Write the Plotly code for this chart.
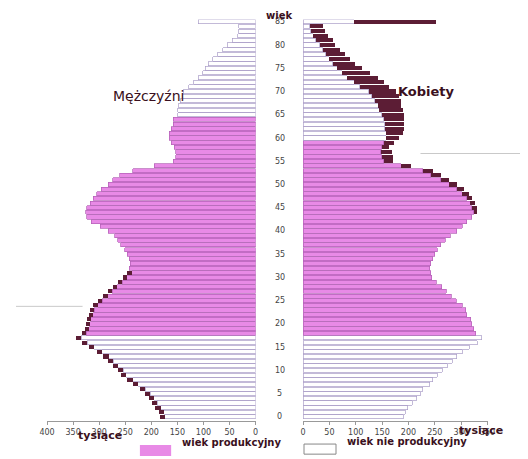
import plotly.graph_objects as go

ages = list(range(0, 86))
# Men, thousands (total bar length incl. dark excess), ages 0..85
men_total = [184,186,192,199,205,212,222,236,246,259,264,274,283,292,305,320,333,344,
             333,328,326,324,320,317,311,302,292,283,274,264,255,246,242,240,242,246,
             251,259,264,270,283,298,315,324,326,324,317,311,305,296,283,274,261,236,
             194,158,153,153,156,162,166,166,162,158,158,149,149,147,145,140,138,128,
             119,110,101,97,91,82,73,63,54,45,34,32,32,110]
# Men excess over women (dark segment), thousands
men_excess = [10]*18 + [8]*14 + [0]*54
# Women, thousands (coloured part), ages 0..85
women = [190,194,199,207,216,222,227,240,246,255,264,274,283,292,302,315,330,339,
         328,324,320,318,311,309,302,291,281,272,263,253,244,242,240,242,246,250,
         255,261,270,279,292,302,311,320,324,320,317,311,302,292,277,261,242,227,
         186,153,149,147,149,153,158,158,155,155,153,149,145,143,136,130,125,108,
         97,84,74,65,56,50,43,37,32,24,19,15,13,97]
# Women excess over men (dark segment), thousands
women_excess = [0]*44 + [6,10,9,9,13,13,15,16,19,19,19,18,22,21,15,20,24,32,37,37,39,43,
                         45,43,50,52,52,56,56,59,53,47,43,39,37,34,29,32,28,26,24,156]
men_ticks = [400,350,300,250,200,150,100,50,0]
women_ticks = [0,50,100,150,200,250,300,350]

PINK = "#e88ae6"
WHITE = "#ffffff"
DARK = "#5c1d35"
men_prod = [18 <= a <= 64 for a in ages]
women_prod = [18 <= a <= 59 for a in ages]

fig = go.Figure()
men_base = [t - e for t, e in zip(men_total, men_excess)]
fig.add_bar(y=ages, x=men_base, orientation="h", xaxis="x", yaxis="y",
            marker=dict(color=[PINK if p else WHITE for p in men_prod],
                        line=dict(color=["#b25fb5" if p else "#a99cc8" for p in men_prod], width=0.7)))
fig.add_bar(y=ages, x=men_excess, orientation="h", xaxis="x", yaxis="y",
            marker=dict(color=DARK, line=dict(width=0)))
fig.add_bar(y=ages, x=women, orientation="h", xaxis="x2", yaxis="y2",
            marker=dict(color=[PINK if p else WHITE for p in women_prod],
                        line=dict(color=["#b25fb5" if p else "#a99cc8" for p in women_prod], width=0.7)))
fig.add_bar(y=ages, x=women_excess, orientation="h", xaxis="x2", yaxis="y2",
            marker=dict(color=DARK, line=dict(width=0)))

ydom = [0.104, 0.975]
axcommon = dict(showgrid=False, zeroline=False, showline=True, linecolor="#999",
                ticks="outside", ticklen=3, tickcolor="#999",
                tickfont=dict(family="DejaVu Sans", size=8, color="#444"), anchor="free", position=0.1)
fig.update_layout(
    width=528, height=459, margin=dict(l=0, r=0, t=0, b=0),
    paper_bgcolor="white", plot_bgcolor="white", showlegend=False,
    barmode="stack", bargap=0.12,
    xaxis=dict(domain=[0.0606, 0.468], range=[400, 0], tickvals=men_ticks, **axcommon),
    xaxis2=dict(domain=[0.5606, 0.921], range=[0, 350], tickvals=women_ticks, **axcommon),
    yaxis=dict(domain=ydom, range=[-0.5, 85.5], visible=False),
    yaxis2=dict(domain=ydom, range=[-0.5, 85.5], visible=False, anchor="x2"),
)

ann = []
for a in range(0, 86, 5):
    ann.append(dict(x=0.515, y=a, xref="paper", yref="y", text=str(a), showarrow=False,
                    font=dict(family="DejaVu Sans", size=8, color="#444")))
ann += [
    dict(x=0.513, y=1.0, xref="paper", yref="paper", yanchor="top", text="<b>wiek</b>", showarrow=False,
         font=dict(family="DejaVu Sans", size=10, color="#3a1020")),
    dict(x=0.186, y=0.83, xref="paper", yref="paper", text="Mężczyźni", showarrow=False,
         font=dict(family="DejaVu Sans", size=14, color="#3a1020")),
    dict(x=0.862, y=0.838, xref="paper", yref="paper", text="<b>Kobiety</b>", showarrow=False,
         font=dict(family="DejaVu Sans", size=13, color="#3a1020")),
    dict(x=0.118, y=0.05, xref="paper", yref="paper", text="<b>tysiące</b>", showarrow=False,
         font=dict(family="DejaVu Sans", size=11, color="#3a1020")),
    dict(x=0.955, y=0.062, xref="paper", yref="paper", text="<b>tysiące</b>", showarrow=False,
         font=dict(family="DejaVu Sans", size=11, color="#3a1020")),
    dict(x=0.32, y=0.036, xref="paper", yref="paper", text="<b>wiek produkcyjny</b>", showarrow=False,
         xanchor="left", font=dict(family="DejaVu Sans", size=10, color="#3a1020")),
    dict(x=0.642, y=0.039, xref="paper", yref="paper", text="<b>wiek nie produkcyjny</b>", showarrow=False,
         xanchor="left", font=dict(family="DejaVu Sans", size=10, color="#3a1020")),
]
fig.update_layout(annotations=ann)
fig.update_layout(shapes=[
    dict(type="rect", xref="paper", yref="paper", x0=0.242, x1=0.303, y0=0.024, y1=0.048,
         fillcolor=PINK, line=dict(width=0)),
    dict(type="rect", xref="paper", yref="paper", x0=0.5625, x1=0.625, y0=0.028, y1=0.05,
         fillcolor="white", line=dict(color="#888", width=1)),
    dict(type="line", xref="paper", yref="paper", x0=0.0, x1=0.13, y0=0.35, y1=0.35,
         line=dict(color="#bbb", width=0.8)),
    dict(type="line", xref="paper", yref="paper", x0=0.79, x1=0.985, y0=0.683, y1=0.683,
         line=dict(color="#bbb", width=0.8)),
])
fig.write_html("out.html")
